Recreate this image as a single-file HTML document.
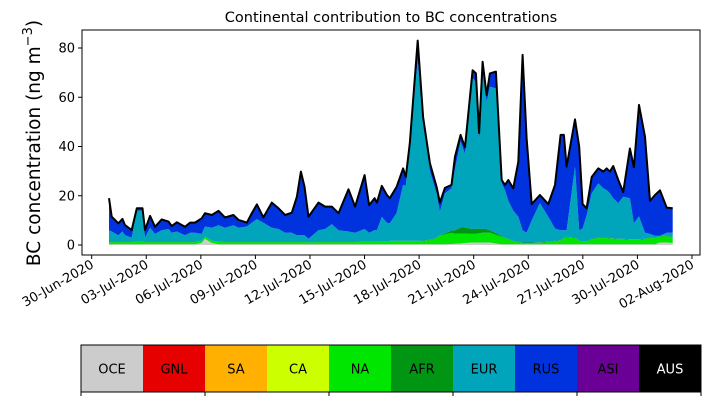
<!DOCTYPE html>
<html><head><meta charset="utf-8"><style>
body{margin:0;background:#fff;}
svg text{font-family:"DejaVu Sans","Liberation Sans",sans-serif;}
</style></head><body>
<svg id="chart" width="710" height="402" viewBox="0 0 710 402" xmlns="http://www.w3.org/2000/svg">
<text x="391" y="22" font-size="14.5" text-anchor="middle">Continental contribution to BC concentrations</text>
<text transform="translate(40,143) rotate(-90)" font-size="18.5" text-anchor="middle">BC concentration (ng m<tspan font-size="13" dy="-8">−3</tspan><tspan dy="8">)</tspan></text>
<g id="layers"></g>
<g id="axes"></g>
<g id="legend"></g>
</svg>
<script>
const days=[0.95,1.10,1.47,1.69,1.83,2.20,2.48,2.79,2.93,3.21,3.48,3.85,4.22,4.40,4.68,5.13,5.41,5.68,6.05,6.23,6.60,6.97,7.33,7.79,8.07,8.53,8.80,9.08,9.44,9.90,10.27,10.63,11.00,11.28,11.50,11.70,11.92,12.47,12.83,13.20,13.57,14.12,14.48,15.00,15.25,15.55,15.68,15.95,16.23,
16.39,16.76,17.12,17.27,17.49,17.92,18.22,18.59,18.96,19.14,19.42,19.78,19.97,20.28,20.52,20.94,21.12,21.30,21.49,21.71,21.89,22.22,22.54,22.72,22.90,23.17,23.45,23.69,23.91,24.19,24.64,25.10,25.47,25.78,25.96,26.11,26.57,26.80,26.99,27.21,27.49,27.85,28.13,28.31,28.49,28.67,28.95,29.22,29.59,29.81,30.09,30.42,30.69,30.97,31.24,31.61,31.94];
const total=[19.0,11.5,8.8,10.6,8.1,6.1,14.9,14.9,6.1,11.8,7.4,10.4,9.5,7.7,9.2,7.4,9.1,9.1,10.8,12.9,12.2,13.9,11.2,12.2,10.2,9.1,12.9,16.5,11.2,17.2,14.9,12.2,13.1,19.6,29.8,23.7,11.5,17.2,15.6,15.6,12.9,22.6,15.6,28.4,16.2,19.0,17.2,24.0,20.3,
19.0,23.6,31.1,27.6,41.3,83,52,33.2,23.6,17.2,23.2,24.4,35.9,44.7,39.7,71,69.7,45.5,74.4,60.9,69.7,70.4,26.4,24.4,26.4,23,33.8,77.2,43.4,16.6,20.3,16.6,24.4,44.7,44.7,31.8,51,39.9,16.6,14.9,27.6,31.1,29.8,31.1,29.8,32.1,26.4,21.5,39.2,31.6,56.9,44,17.9,20.3,22.2,15.2,14.9];
const eurTop=[6,5.5,4,5.5,4,3,14,14,3,7,4.5,6,6.5,5,5.5,4,5,5,4.5,7.5,7,8,7,8,7,7.5,9,10.5,9,7,6.5,5,5,4,4,4,2.5,6,6.5,8.5,6,5.5,5,6.5,5,6,6,11.5,9,
8.8,13,24.4,24,41.3,75,52,30,21,13.5,21,23,31,42,37,68,66,42,72.5,58,64.3,63.6,25,22.3,18,14,11.5,6,5,10,17,11.5,6.7,6,6,6,31.8,6,6.7,12,21,25,23,22.3,21,19,17,19.6,19,8.8,11.7,5,4.5,3.7,3.7,5,5];
const na=[0.8,0.8,0.8,0.8,0.8,0.8,0.9,0.9,0.8,0.8,0.8,0.8,0.8,0.8,0.8,0.8,0.8,0.8,0.8,0.8,0.9,0.9,0.8,0.8,0.8,0.8,0.8,0.8,0.8,0.8,0.8,0.8,0.8,0.8,0.8,0.8,0.7,0.8,0.8,0.8,0.8,0.8,0.8,0.9,0.9,0.9,0.9,1.0,1.0,
1.2,1.2,1.2,1.2,1.2,1.2,1.3,1.6,2.5,3.5,4,4.5,4,4,3.8,3.5,3.5,3.8,4,4,4,3.5,3,2.5,2,1.2,0.8,0.5,0.5,0.5,0.6,0.8,1.2,1.5,2.5,2.8,2.5,1.5,1,1,2,2.5,2.5,2.5,2.3,2.2,2,2,1.8,1.8,1.8,2,2.5,2.5,2.5,2.5,2.3];
const afr=[0.1,0.1,0.1,0.1,0.1,0.1,0.1,0.1,0.1,0.1,0.1,0.1,0.1,0.1,0.1,0.1,0.1,0.1,0.1,0.1,0.1,0.1,0.1,0.1,0.1,0.1,0.1,0.1,0.1,0.1,0.1,0.1,0.1,0.1,0.1,0.1,0.1,0.1,0.1,0.1,0.1,0.1,0.1,0.1,0.1,0.1,0.1,0.1,0.1,
0.2,0.2,0.2,0.2,0.2,0.2,0.2,0.2,0.2,0.2,0.5,1,1.5,2.5,2.5,2,2,2,1.5,1.5,1,0.8,0.3,0.2,0.2,0.2,0.2,0.2,0.2,0.2,0.2,0.2,0.2,0.2,0.2,0.2,0.2,0.2,0.2,0.2,0.2,0.2,0.2,0.2,0.2,0.2,0.2,0.2,0.2,0.2,0.2,0.2,0.2,0.2,0.2,0.2,0.2];
const oce=[0.3,0.3,0.3,0.3,0.3,0.3,0.3,0.3,0.3,0.3,0.3,0.3,0.3,0.3,0.3,0.3,0.3,0.3,0.8,2.5,0.8,0.3,0.3,0.3,0.3,0.3,0.3,0.3,0.3,0.3,0.3,0.3,0.3,0.3,0.3,0.3,0.3,0.3,0.3,0.3,0.3,0.3,0.3,0.3,0.3,0.3,0.3,0.3,0.3,
0.3,0.3,0.3,0.3,0.3,0.3,0.3,0.3,0.3,0.3,0.3,0.4,0.5,0.6,0.8,1,1,1,1,1,1,0.6,0.3,0.3,0.3,0.3,0.3,0.3,0.3,0.3,0.3,0.3,0.3,0.3,0.3,0.3,0.3,0.3,0.3,0.3,0.3,0.3,0.3,0.3,0.3,0.3,0.3,0.3,0.3,0.3,0.3,0.3,0.3,0.3,1,1,0.8];
const yTicks=[0,20,40,60,80];
const xTickLabels=["30-Jun-2020","03-Jul-2020","06-Jul-2020","09-Jul-2020","12-Jul-2020","15-Jul-2020","18-Jul-2020","21-Jul-2020","24-Jul-2020","27-Jul-2020","30-Jul-2020","02-Aug-2020"];
const legendNames=["OCE","GNL","SA","CA","NA","AFR","EUR","RUS","ASI","AUS"];
const legendColors=["#cccccc","#e60000","#ffb000","#ccff00","#00e600","#009614","#00a5bc","#0033dd","#6a0096","#000000"];

const NS="http://www.w3.org/2000/svg";
const PL=82,PR=700,PT=30,PB=255;
const X=d=>91.7+d*18.19;
const Y=v=>245-v*2.4625;
function mk(tag,attrs,parent){const e=document.createElementNS(NS,tag);for(const k in attrs)e.setAttribute(k,attrs[k]);parent.appendChild(e);return e;}

const layers=document.getElementById('layers');
const n=days.length;
const c0=[],c1=[],c2=[],c3=[],c4=[],c5=[];
for(let i=0;i<n;i++){
  c0[i]=0;c1[i]=oce[i];c2[i]=c1[i]+na[i];c3[i]=c2[i]+afr[i];
  c4[i]=Math.max(c3[i],eurTop[i]);c5[i]=Math.max(c4[i],total[i]);
}
function band(lo,hi,color,name){
  let d='M'+X(days[0])+','+Y(hi[0]);
  for(let i=1;i<n;i++)d+='L'+X(days[i]).toFixed(1)+','+Y(hi[i]).toFixed(1);
  for(let i=n-1;i>=0;i--)d+='L'+X(days[i]).toFixed(1)+','+Y(lo[i]).toFixed(1);
  const p=mk('path',{d:d+'Z',fill:color,stroke:'none'},layers);
  
  
}
band(c0,c1,'#cccccc','oce-area');
band(c1,c2,'#00e600','na-area');
band(c2,c3,'#009614','afr-area');
band(c3,c4,'#00a5bc','eur-area');
band(c4,c5,'#0033dd','rus-area');
let ld='';
for(let i=0;i<n;i++)ld+=(i?'L':'M')+X(days[i]).toFixed(1)+','+Y(total[i]).toFixed(1);
const tl=mk('path',{d:ld,fill:'none',stroke:'#000','stroke-width':2,'stroke-linejoin':'round'},layers);



const axes=document.getElementById('axes');
const fr=mk('rect',{x:PL,y:PT,width:PR-PL,height:PB-PT,fill:'none',stroke:'#000','stroke-width':1},axes);


yTicks.forEach(v=>{
  mk('line',{x1:PL-4,x2:PL,y1:Y(v),y2:Y(v),stroke:'#000'},axes);
  const t=mk('text',{x:PL-7,y:Y(v)+4.5,'font-size':13,'text-anchor':'end'},axes);
  t.textContent=v;
  
  
});
xTickLabels.forEach((lab,i)=>{
  const x=X(i*3);
  mk('line',{x1:x,x2:x,y1:PB,y2:PB+4,stroke:'#000'},axes);
  const t=mk('text',{transform:`translate(${x+3},${PB+12}) rotate(-30)`,'font-size':13,'text-anchor':'end'},axes);
  t.textContent=lab;
  
  
});

const lg=document.getElementById('legend');
const LX=81,LW=62,LY=345,LH=47;
legendNames.forEach((nm,i)=>{
  const r=mk('rect',{x:LX+i*LW,y:LY,width:LW,height:LH,fill:legendColors[i]},lg);
  
  
  const t=mk('text',{x:LX+i*LW+LW/2,y:LY+LH/2+5,'font-size':13,'text-anchor':'middle',fill:nm==='AUS'?'#fff':'#000'},lg);
  t.textContent=nm;
  
  
});
mk('rect',{x:LX,y:LY,width:LW*10,height:LH,fill:'none',stroke:'#000','stroke-width':1},lg);
for(let i=0;i<=5;i++)mk('line',{x1:LX+i*LW*2,x2:LX+i*LW*2,y1:LY+LH,y2:LY+LH+4,stroke:'#000'},lg);
</script>
</body></html>
